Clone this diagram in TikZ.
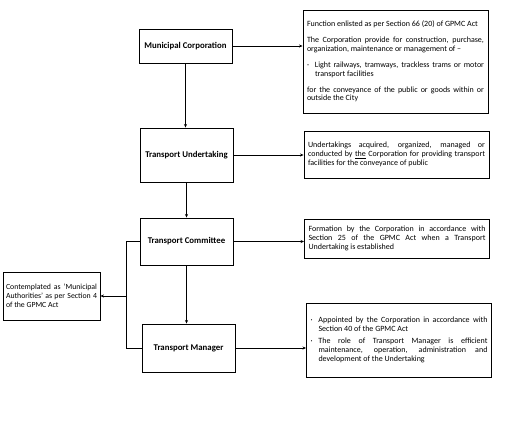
\documentclass[tikz,border=0pt]{standalone}
\usepackage{fontspec}
\setmainfont{Carlito}
\usetikzlibrary{arrows.meta}
\hyphenpenalty=10000
\exhyphenpenalty=10000

\newcommand{\notegap}[1]{\par\vspace{#1}}
\newcommand{\dotitem}[1]{{\hangindent=8pt\hangafter=1\noindent\makebox[8pt][l]{·}#1\par}}

\begin{document}
\begin{tikzpicture}[x=1pt,y=-1pt,
    unit/.style={draw, line width=0.9pt, minimum width=93pt, align=center,
        font=\fontsize{8.8}{10}\selectfont\bfseries},
    note/.style={draw, line width=0.9pt, text width=177pt, inner xsep=4pt, align=justify,
        font=\fontsize{8}{8.9}\selectfont},
    link/.style={line width=0.8pt},
    arr/.style={link, -{Stealth[length=3.5pt,width=3pt]}}]
    \useasboundingbox (0,0) rectangle (508,423);
    % units of the transport set-up
    \node[unit, minimum height=34pt] (mc) at (185.5,46) {Municipal Corporation};
    \node[unit, minimum height=54pt] (tu) at (186.5,155) {Transport Undertaking};
    \node[unit, minimum height=47pt] (tc) at (186.5,241.5) {Transport Committee};
    \node[unit, minimum height=48pt] (tm) at (188.5,348) {Transport Manager};
    % notes on the right
    \node[note, minimum height=103pt] (fn) at (395.5,61.5) {Function enlisted as per Section 66 (20) of GPMC Act\notegap{7pt}
        The Corporation provide for construction, purchase, organization, maintenance or management of --\notegap{7pt}
        \dotitem{Light railways, tramways, trackless trams or motor transport facilities}\vspace{7pt}
        for the conveyance of the public or goods within or outside the City};
    \node[note, minimum height=47pt] (ut) at (396.5,154.5) {Undertakings acquired, organized, managed or conducted by \underline{the} Corporation for providing transport facilities for the conveyance of public};
    \node[note, minimum height=39pt] (fm) at (397,238.5) {Formation by the Corporation in accordance with Section 25 of the GPMC Act when a Transport Undertaking is established};
    \node[note, minimum height=74pt] (ap) at (399,340) {\dotitem{Appointed by the Corporation in accordance with Section 40 of the GPMC Act}\vspace{3pt}
        \dotitem{The role of Transport Manager is efficient maintenance, operation, administration and development of the Undertaking}};
    \node[note, text width=91pt, inner xsep=3pt, minimum height=48pt, font=\fontsize{7.8}{8.9}\selectfont] (ma) at (51.5,296) {Contemplated as ‘Municipal Authorities’ as per Section 4 of the GPMC Act};
    % connectors
    \draw[arr] (mc.south) -- (mc.south |- tu.north);
    \draw[arr] (tu.south) -- (tu.south |- tc.north);
    \draw[arr] (tc.south) -- (tc.south |- tm.north);
    \draw[arr] (mc.east) -- (mc.east -| fn.west);
    \draw[arr] (tu.east) -- (tu.east -| ut.west);
    \draw[arr] (tc.east) -- (tc.east -| fm.west);
    \draw[arr] (tm.east) -- (tm.east -| ap.west);
    \draw[link] (tc.west) -- ++(-13,0) |- (tm.west);
    \coordinate (bus) at (127,296);
    \draw[arr] (bus) -- (ma.east);
\end{tikzpicture}
\end{document}
